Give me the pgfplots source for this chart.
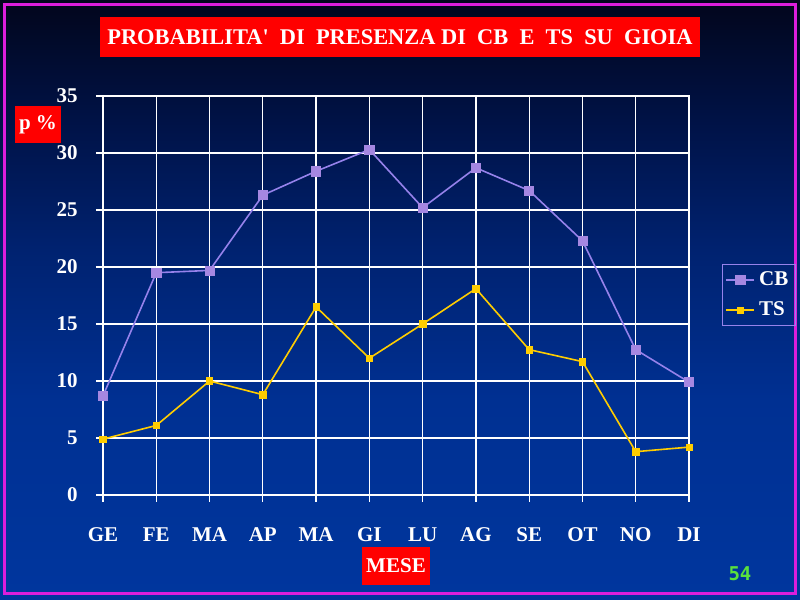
\documentclass[border=0pt]{standalone}
\usepackage{fontspec}
\setmainfont{Liberation Serif}
\newfontfamily\pagefont{DejaVu Sans Mono}
\usepackage{pgfplots}
\pgfplotsset{compat=1.18}
\definecolor{bgA}{RGB}{0,54,158}
\definecolor{bgB}{RGB}{0,48,146}
\definecolor{bgC}{RGB}{0,34,112}
\definecolor{bgD}{RGB}{0,18,70}
\definecolor{bgE}{RGB}{2,6,28}
\definecolor{cbcol}{RGB}{150,130,235}
\definecolor{cbmark}{RGB}{165,135,225}
\definecolor{tscol}{RGB}{255,205,0}
\definecolor{bordercol}{RGB}{220,30,220}
\definecolor{pagegreen}{RGB}{90,225,60}
\pgfdeclareverticalshading{bgshade}{100bp}{color(0bp)=(bgA); color(25bp)=(bgA); color(41.7bp)=(bgB); color(54.2bp)=(bgC); color(65bp)=(bgD); color(75bp)=(bgE); color(100bp)=(bgE)}
\begin{document}
\begin{tikzpicture}
\useasboundingbox (0,0) rectangle (400pt,300pt);
\shade[shading=bgshade] (0,0) rectangle (400pt,300pt);
\draw[bordercol, line width=1.5pt] (2.3pt,3pt) rectangle (397.7pt,297.5pt);
\begin{axis}[
  at={(51.5pt,52.5pt)}, anchor=south west,
  scale only axis, width=293pt, height=199.5pt,
  xmin=0, xmax=11, ymin=0, ymax=35,
  xtick={0,...,11},
  xticklabels={GE,FE,MA,AP,MA,GI,LU,AG,SE,OT,NO,DI},
  ytick={0,5,...,35},
  xtick pos=bottom, ytick pos=left,
  grid=major,
  grid style={white, line width=0.6pt},
  axis line style={white, line width=0.6pt},
  tick style={white, line width=0.6pt},
  tick align=outside, major tick length=3.5pt,
  /pgf/number format/assume math mode=true,
  ticklabel style={font=\fontsize{10.5}{12}\selectfont\bfseries, text=white, inner sep=0pt},
  yticklabel style={xshift=-9pt},
  xticklabel style={yshift=-12.5pt},
  legend style={at={(1.0563,0.579)}, anchor=north west, draw=cbcol, fill=none,
    text=white, font=\fontsize{10.5}{12}\selectfont\bfseries, inner sep=1.5pt,
    row sep=2.6pt, line width=0.5pt},
  legend cell align=left,
  legend image code/.code={\draw[mark repeat=2,mark phase=2] plot coordinates {(0pt,0pt)(7pt,0pt)(14pt,0pt)};},
]
\addplot[cbcol, line width=0.8pt, mark=square*, mark size=2.3pt, mark options={fill=cbmark, draw=cbmark, line width=0.3pt}]
  coordinates {(0,8.7)(1,19.5)(2,19.7)(3,26.3)(4,28.4)(5,30.3)(6,25.2)(7,28.7)(8,26.7)(9,22.3)(10,12.75)(11,9.9)};
\addlegendentry{CB}
\addplot[tscol, line width=0.8pt, mark=square*, mark size=1.6pt, mark options={fill=tscol, draw=tscol, line width=0.3pt}]
  coordinates {(0,4.9)(1,6.1)(2,10.0)(3,8.8)(4,16.5)(5,12.0)(6,15.0)(7,18.1)(8,12.75)(9,11.7)(10,3.8)(11,4.2)};
\addlegendentry{TS}
\end{axis}
\fill[red] (50pt,271.5pt) rectangle (350pt,291.5pt);
\node[text=white, font=\fontsize{11.2}{13}\selectfont\bfseries] at (200pt,281.5pt) {PROBABILITA\textquotesingle\ \ DI\ \ PRESENZA DI\ \ CB\ \ E\ \ TS\ \ SU\ \ GIOIA};
\fill[red] (7.5pt,228.5pt) rectangle (30.5pt,247pt);
\node[text=white, font=\fontsize{10.5}{12}\selectfont\bfseries] at (19pt,237.75pt) {p \%};
\fill[red] (181pt,7.5pt) rectangle (215pt,26.5pt);
\node[text=white, font=\fontsize{10.5}{12}\selectfont\bfseries] at (198pt,17pt) {MESE};
\node[text=pagegreen, font=\fontsize{9.5}{11}\selectfont\pagefont\bfseries] at (370pt,13.25pt) {54};
\end{tikzpicture}
\end{document}
